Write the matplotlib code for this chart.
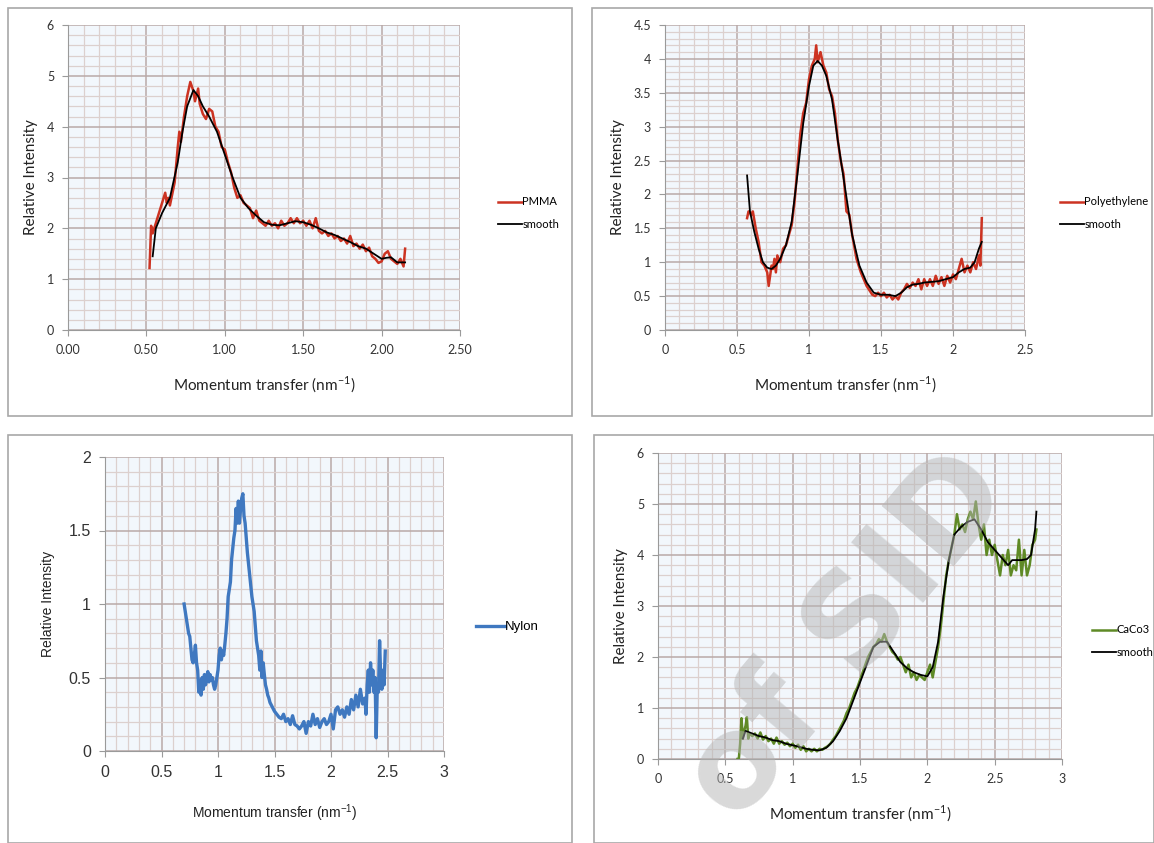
import matplotlib
matplotlib.use("Agg")
import matplotlib.pyplot as plt
from matplotlib.ticker import MultipleLocator, FormatStrFormatter
from matplotlib.patches import Rectangle

# ---- data ----
pmma_x = [0.52, 0.53, 0.54, 0.56, 0.58, 0.60, 0.62, 0.63, 0.64, 0.65, 0.66, 0.68, 0.70, 0.71, 0.72, 0.74,
          0.76, 0.78, 0.80, 0.81, 0.83, 0.84, 0.86, 0.88, 0.90, 0.92, 0.94, 0.96, 0.98, 1.00, 1.02, 1.04,
          1.06, 1.08, 1.10, 1.12, 1.14, 1.16, 1.18, 1.20, 1.22, 1.24, 1.26, 1.28, 1.30, 1.32, 1.34, 1.36,
          1.38, 1.40, 1.42, 1.44, 1.46, 1.48, 1.50, 1.52, 1.54, 1.56, 1.58, 1.60, 1.62, 1.64, 1.66, 1.68,
          1.70, 1.72, 1.74, 1.76, 1.78, 1.80, 1.82, 1.84, 1.86, 1.88, 1.90, 1.92, 1.94, 1.96, 1.98, 2.00,
          2.02, 2.04, 2.06, 2.08, 2.10, 2.12, 2.14, 2.15]
pmma_y = [1.22, 2.05, 1.9, 2.1, 2.3, 2.5, 2.7, 2.5, 2.6, 2.45, 2.6, 2.9, 3.6, 3.9, 3.7, 4.2,
          4.6, 4.88, 4.7, 4.5, 4.75, 4.45, 4.25, 4.15, 4.35, 4.3, 4.0, 3.9, 3.6, 3.55, 3.3, 3.1,
          2.8, 2.6, 2.65, 2.5, 2.45, 2.4, 2.2, 2.35, 2.15, 2.1, 2.05, 2.15, 2.05, 2.1, 2.0, 2.15,
          2.05, 2.1, 2.2, 2.1, 2.2, 2.1, 2.15, 2.05, 2.15, 2.0, 2.2, 1.95, 1.9, 1.95, 1.85, 1.9,
          1.8, 1.85, 1.75, 1.8, 1.7, 1.85, 1.65, 1.7, 1.6, 1.68, 1.55, 1.62, 1.45, 1.4, 1.32, 1.35,
          1.5, 1.55, 1.4, 1.35, 1.3, 1.4, 1.25, 1.6]
pmma_sx = [0.54, 0.56, 0.60, 0.65, 0.70, 0.73, 0.76, 0.80, 0.83, 0.86, 0.90, 0.95, 1.00, 1.05, 1.10,
           1.15, 1.20, 1.25, 1.30, 1.35, 1.40, 1.45, 1.50, 1.55, 1.60, 1.65, 1.70, 1.75, 1.80, 1.85,
           1.90, 1.95, 2.00, 2.03, 2.06, 2.10, 2.15]
pmma_sy = [1.45, 2.0, 2.3, 2.6, 3.3, 3.9, 4.4, 4.72, 4.6, 4.4, 4.2, 3.9, 3.45, 3.0, 2.6,
           2.4, 2.25, 2.12, 2.07, 2.06, 2.1, 2.14, 2.12, 2.07, 2.0, 1.92, 1.87, 1.8, 1.73, 1.65,
           1.6, 1.5, 1.4, 1.42, 1.43, 1.33, 1.33]

pe_x = [0.57, 0.58, 0.60, 0.61, 0.63, 0.65, 0.67, 0.69, 0.71, 0.72, 0.73, 0.74, 0.75, 0.76, 0.77, 0.78,
        0.80, 0.82, 0.84, 0.86, 0.88, 0.90, 0.92, 0.94, 0.96, 0.98, 1.00, 1.02, 1.04, 1.05, 1.06, 1.08,
        1.10, 1.12, 1.14, 1.16, 1.18, 1.20, 1.22, 1.24, 1.26, 1.28, 1.30, 1.33, 1.36, 1.40, 1.44, 1.46,
        1.48, 1.50, 1.52, 1.54, 1.56, 1.58, 1.60, 1.62, 1.64, 1.66, 1.68, 1.70, 1.72, 1.74, 1.76, 1.78,
        1.80, 1.82, 1.84, 1.86, 1.88, 1.90, 1.92, 1.94, 1.96, 1.98, 2.00, 2.02, 2.04, 2.06, 2.08, 2.10,
        2.12, 2.14, 2.16, 2.18, 2.19, 2.20]
pe_y = [1.65, 1.75, 1.7, 1.75, 1.5, 1.3, 1.0, 0.95, 0.85, 0.65, 0.8, 0.95, 0.9, 1.05, 0.85, 1.1,
        1.0, 1.2, 1.25, 1.4, 1.55, 1.9, 2.4, 2.9, 3.2, 3.35, 3.7, 3.9, 4.0, 4.2, 3.95, 4.1,
        3.9, 3.8, 3.55, 3.45, 3.2, 2.8, 2.5, 2.3, 1.75, 1.7, 1.4, 1.05, 0.85, 0.65, 0.52, 0.5,
        0.55, 0.5, 0.55, 0.48, 0.52, 0.45, 0.5, 0.45, 0.55, 0.6, 0.68, 0.62, 0.7, 0.65, 0.75, 0.6,
        0.75, 0.65, 0.75, 0.65, 0.8, 0.68, 0.78, 0.65, 0.8, 0.7, 0.82, 0.75, 0.9, 1.05, 0.85, 0.95,
        0.85, 1.0, 0.9, 1.1, 0.95, 1.65]
pe_sx = [0.57, 0.59, 0.62, 0.65, 0.68, 0.71, 0.74, 0.77, 0.80, 0.84, 0.88, 0.92, 0.96, 1.00, 1.03,
         1.06, 1.09, 1.12, 1.16, 1.20, 1.25, 1.30, 1.35, 1.40, 1.45, 1.50, 1.55, 1.60, 1.64, 1.68,
         1.72, 1.76, 1.80, 1.85, 1.90, 1.95, 2.00, 2.04, 2.08, 2.12, 2.15, 2.18, 2.20]
pe_sy = [2.28, 1.75, 1.45, 1.2, 1.0, 0.92, 0.9, 0.95, 1.05, 1.25, 1.6, 2.3, 3.05, 3.6, 3.9,
         3.97, 3.9, 3.75, 3.4, 2.8, 2.1, 1.4, 0.95, 0.7, 0.55, 0.52, 0.52, 0.5, 0.55, 0.63,
         0.67, 0.68, 0.7, 0.71, 0.72, 0.75, 0.78, 0.85, 0.9, 0.92, 1.0, 1.2, 1.3]

nylon_x = [0.70, 0.72, 0.74, 0.75, 0.76, 0.77, 0.78, 0.79, 0.80, 0.81, 0.82, 0.83, 0.84, 0.85, 0.86, 0.87,
           0.88, 0.89, 0.90, 0.91, 0.92, 0.93, 0.94, 0.95, 0.96, 0.97, 0.98, 0.99, 1.00, 1.01, 1.02, 1.03,
           1.04, 1.05, 1.06, 1.07, 1.08, 1.09, 1.10, 1.11, 1.12, 1.14, 1.15, 1.16, 1.17, 1.18, 1.19, 1.20,
           1.21, 1.22, 1.23, 1.24, 1.25, 1.26, 1.28, 1.30, 1.32, 1.33, 1.34, 1.35, 1.36, 1.37, 1.38, 1.39,
           1.40, 1.41, 1.42, 1.43, 1.44, 1.45, 1.46, 1.48, 1.50, 1.52, 1.54, 1.56, 1.58, 1.60, 1.62, 1.64,
           1.66, 1.68, 1.70, 1.72, 1.74, 1.76, 1.78, 1.80, 1.82, 1.84, 1.86, 1.88, 1.90, 1.92, 1.94, 1.96,
           1.98, 2.00, 2.02, 2.04, 2.06, 2.08, 2.10, 2.12, 2.14, 2.16, 2.18, 2.20, 2.22, 2.24, 2.26, 2.28,
           2.30, 2.31, 2.32, 2.33, 2.34, 2.35, 2.36, 2.37, 2.38, 2.39, 2.40, 2.41, 2.42, 2.43, 2.44, 2.45,
           2.46, 2.47, 2.48]
nylon_y = [1.0, 0.9, 0.8, 0.78, 0.7, 0.62, 0.6, 0.65, 0.72, 0.6, 0.55, 0.4, 0.48, 0.38, 0.5, 0.42,
           0.52, 0.45, 0.5, 0.54, 0.47, 0.52, 0.48, 0.5, 0.45, 0.42, 0.45, 0.5, 0.55, 0.65, 0.7, 0.62,
           0.68, 0.65, 0.72, 0.8, 0.9, 1.05, 1.1, 1.15, 1.3, 1.45, 1.5, 1.65, 1.55, 1.7, 1.55, 1.65,
           1.72, 1.75, 1.6, 1.55, 1.45, 1.35, 1.2, 1.05, 0.95, 0.85, 0.75, 0.7, 0.65, 0.55, 0.68, 0.5,
           0.6, 0.52, 0.45, 0.42, 0.38, 0.36, 0.33, 0.3, 0.27, 0.25, 0.23, 0.22, 0.25, 0.2, 0.22, 0.18,
           0.24, 0.18, 0.17, 0.15, 0.17, 0.2, 0.12, 0.2, 0.17, 0.25, 0.18, 0.22, 0.16, 0.2, 0.22, 0.18,
           0.2, 0.25, 0.15, 0.28, 0.3, 0.25, 0.28, 0.23, 0.3, 0.25, 0.35, 0.28, 0.38, 0.3, 0.42, 0.32,
           0.36, 0.25, 0.45, 0.55, 0.4, 0.6, 0.45, 0.55, 0.4, 0.5, 0.09, 0.45, 0.4, 0.75, 0.5, 0.42,
           0.55, 0.45, 0.68]

caco_x = [0.59, 0.60, 0.61, 0.62, 0.63, 0.64, 0.65, 0.66, 0.67, 0.68, 0.70, 0.72, 0.74, 0.76, 0.78, 0.80,
          0.82, 0.84, 0.86, 0.88, 0.90, 0.92, 0.94, 0.96, 0.98, 1.00, 1.02, 1.04, 1.06, 1.08, 1.10, 1.12,
          1.14, 1.16, 1.18, 1.20, 1.22, 1.24, 1.26, 1.28, 1.30, 1.32, 1.34, 1.36, 1.38, 1.40, 1.42, 1.44,
          1.46, 1.48, 1.50, 1.52, 1.54, 1.56, 1.58, 1.60, 1.62, 1.64, 1.66, 1.68, 1.70, 1.72, 1.74, 1.76,
          1.78, 1.80, 1.82, 1.84, 1.86, 1.88, 1.90, 1.92, 1.94, 1.96, 1.98, 2.00, 2.02, 2.04, 2.06, 2.08,
          2.10, 2.12, 2.14, 2.16, 2.18, 2.20, 2.22, 2.24, 2.26, 2.28, 2.30, 2.32, 2.34, 2.36, 2.38, 2.40,
          2.42, 2.44, 2.46, 2.48, 2.50, 2.52, 2.54, 2.56, 2.58, 2.60, 2.62, 2.64, 2.66, 2.68, 2.70, 2.72,
          2.74, 2.76, 2.78, 2.80, 2.81]
caco_y = [0.0, 0.0, 0.3, 0.8, 0.4, 0.55, 0.65, 0.82, 0.4, 0.5, 0.45, 0.5, 0.4, 0.52, 0.38, 0.45,
          0.35, 0.4, 0.3, 0.42, 0.3, 0.35, 0.28, 0.32, 0.25, 0.3, 0.22, 0.28, 0.18, 0.25, 0.15, 0.2,
          0.15, 0.2, 0.15, 0.2, 0.18, 0.22, 0.25, 0.3, 0.38, 0.45, 0.55, 0.65, 0.75, 0.9, 1.0, 1.15,
          1.3, 1.4, 1.55, 1.7, 1.85, 2.0, 2.1, 2.2, 2.25, 2.35, 2.3, 2.45, 2.3, 2.2, 2.1, 2.05,
          1.95, 2.0, 1.85, 1.7, 1.85, 1.6, 1.7, 1.55, 1.65, 1.6, 1.55, 1.7, 1.85, 1.6, 1.9, 2.2,
          2.6, 3.1, 3.6, 3.9, 4.15, 4.4, 4.8, 4.5, 4.6, 4.45, 4.7, 4.85, 4.7, 5.05, 4.6, 4.3,
          4.6, 4.0, 4.3, 4.0, 4.2, 3.9, 3.6, 4.0, 3.8, 4.1, 3.6, 3.8, 3.7, 4.3, 3.6, 4.1,
          3.6, 3.8, 4.2, 4.3, 4.5]
caco_sx = [0.63, 0.65, 0.70, 0.75, 0.80, 0.85, 0.90, 0.95, 1.00, 1.05, 1.10, 1.15, 1.20, 1.25, 1.30,
           1.35, 1.40, 1.45, 1.50, 1.55, 1.60, 1.65, 1.70, 1.75, 1.80, 1.85, 1.90, 1.95, 2.00, 2.04,
           2.08, 2.12, 2.16, 2.20, 2.25, 2.30, 2.35, 2.40, 2.45, 2.50, 2.55, 2.60, 2.63, 2.66, 2.70,
           2.74, 2.77, 2.80, 2.81]
caco_sy = [0.4, 0.55, 0.5, 0.45, 0.42, 0.37, 0.35, 0.3, 0.27, 0.24, 0.2, 0.18, 0.17, 0.22, 0.35,
           0.55, 0.8, 1.15, 1.5, 1.85, 2.2, 2.3, 2.3, 2.1, 1.9, 1.78, 1.7, 1.65, 1.62, 1.8,
           2.3, 3.2, 3.9, 4.4, 4.55, 4.65, 4.7, 4.5, 4.25, 4.1, 3.95, 3.8, 3.9, 3.9, 3.9,
           3.92, 4.0, 4.5, 4.85]

W, H = 1154, 843
fig = plt.figure(figsize=(W / 100, H / 100), dpi=100)
fig.patch.set_facecolor("white")

MAJ = "#b9aaa8"
MIN = "#dcd0ce"
BG = "#f2f7fc"
XLABEL = "Momentum transfer (nm$^{\\mathregular{-1}}$)"


def box(l, t, r, b):
    fig.patches.append(Rectangle((l / W, 1 - b / H), (r - l) / W, (b - t) / H, transform=fig.transFigure,
                                 fill=False, edgecolor="#a8a8a8", linewidth=1.2))


def panel(l, t, r, b, xmax, xmaj, ymax, ymaj, ymin_step, xfmt, yfmt, font, fs, lfs, xpad, ypad):
    ax = fig.add_axes([l / W, 1 - b / H, (r - l) / W, (b - t) / H])
    ax.set_facecolor(BG)
    ax.set_xlim(0, xmax)
    ax.set_ylim(0, ymax)
    ax.xaxis.set_major_locator(MultipleLocator(xmaj))
    ax.xaxis.set_minor_locator(MultipleLocator(0.1))
    ax.yaxis.set_major_locator(MultipleLocator(ymaj))
    ax.yaxis.set_minor_locator(MultipleLocator(ymin_step))
    ax.xaxis.set_major_formatter(FormatStrFormatter(xfmt))
    ax.yaxis.set_major_formatter(FormatStrFormatter(yfmt))
    ax.grid(which="major", color=MAJ, linewidth=1.1)
    ax.grid(which="minor", color=MIN, linewidth=0.9)
    ax.set_axisbelow(True)
    for s in ["top", "right"]:
        ax.spines[s].set_visible(False)
    for s in ["left", "bottom"]:
        ax.spines[s].set_color("#9a9a9a")
    ax.tick_params(which="major", length=4, color="#9a9a9a", labelsize=fs, labelcolor="#333333", pad=6)
    ax.tick_params(which="minor", length=0)
    for lab in ax.get_xticklabels() + ax.get_yticklabels():
        lab.set_family(font)
    ax.set_xlabel(XLABEL, fontsize=lfs, family=font, color="#222222", labelpad=xpad)
    ax.set_ylabel("Relative Intensity", fontsize=lfs, family=font, color="#222222", labelpad=ypad)
    return ax


def legend(ax, x, y, font, fs):
    ax.legend(loc="center left", bbox_to_anchor=(x / W, 1 - y / H), bbox_transform=fig.transFigure,
              frameon=False, handlelength=2.2, handletextpad=0.0, labelspacing=1.0,
              prop={"family": font, "size": fs})


CAL = ["Lato", "DejaVu Sans"]
ARI = ["Liberation Sans", "DejaVu Sans"]

# top left: PMMA
box(8, 8, 572, 416)
ax1 = panel(68, 25, 460, 330, 2.5, 0.5, 6, 1, 0.2, "%.2f", "%d", CAL, 9, 11, 14, 6)
ax1.plot(pmma_x, pmma_y, color="#cc3322", linewidth=1.8, label="PMMA")
ax1.plot(pmma_sx, pmma_sy, color="black", linewidth=1.3, label="smooth")
legend(ax1, 488, 213, CAL, 8)

# top right: Polyethylene
box(592, 8, 1152, 416)
ax2 = panel(665, 25, 1025, 330, 2.5, 0.5, 4.5, 0.5, 0.1, "%g", "%g", CAL, 9, 11, 14, 6)
ax2.plot(pe_x, pe_y, color="#cc3322", linewidth=1.8, label="Polyethylene")
ax2.plot(pe_sx, pe_sy, color="black", linewidth=1.3, label="smooth")
legend(ax2, 1050, 213, CAL, 8)

# bottom left: Nylon
box(8, 435, 572, 843)
ax3 = panel(105, 457, 444, 751, 3, 0.5, 2, 0.5, 0.1, "%g", "%g", ARI, 11.5, 10, 16, 10)
ax3.plot(nylon_x, nylon_y, color="#3f78c0", linewidth=2.4, label="Nylon")
legend(ax3, 464, 627, ARI, 9.5)

# bottom right: CaCo3
box(594, 435, 1154, 843)
ax4 = panel(658, 453, 1062, 759, 3, 0.5, 6, 1, 0.2, "%g", "%d", CAL, 9, 11, 14, 6)
ax4.plot(caco_x, caco_y, color="#5f8a26", linewidth=1.8, label="CaCo3")
ax4.plot(caco_sx, caco_sy, color="black", linewidth=1.3, label="smooth")
legend(ax4, 1082, 641, CAL, 8)

# scanned-page watermark
fig.text(0.735, 0.245, "of SID", rotation=50, fontsize=92, fontweight="bold", color="#b4b4b4",
         alpha=0.5, ha="center", va="center", zorder=10)

fig.savefig("out.png", dpi=100)
